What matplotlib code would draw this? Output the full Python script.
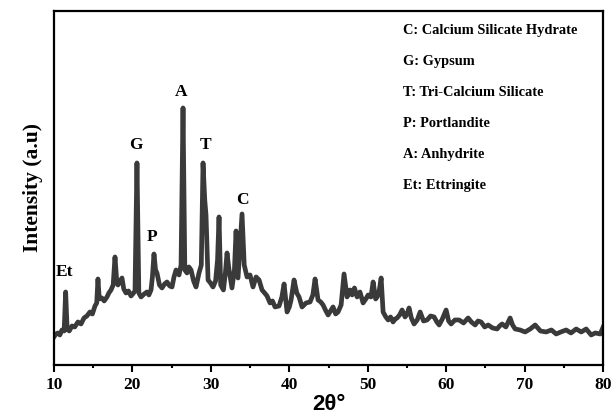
import matplotlib
matplotlib.use("Agg")
from matplotlib import pyplot as plt
from matplotlib.ticker import MultipleLocator

# Patrón DRX (2θ en grados, intensidad en unidades arbitrarias)
two_theta = [
    10.0, 10.25, 10.51, 10.75, 11.02, 11.30, 11.49, 11.68, 11.95, 12.30,
    12.65, 13.06, 13.45, 13.83, 14.20, 14.59, 14.90, 15.23, 15.45, 15.61,
    15.78, 16.10, 16.40, 16.76, 17.00, 17.27, 17.55, 17.78, 18.00, 18.16,
    18.40, 18.67, 18.90, 19.18, 19.50, 19.82, 20.05, 20.33, 20.58, 20.82,
    21.10, 21.50, 21.86, 22.10, 22.37, 22.55, 22.75, 22.95, 23.13, 23.45,
    23.77, 24.10, 24.41, 24.75, 25.05, 25.30, 25.56, 25.94, 26.20, 26.45,
    26.68, 26.96, 27.20, 27.47, 27.80, 28.11, 28.49, 28.78, 29.00, 29.22,
    29.38, 29.64, 29.95, 30.27, 30.60, 30.85, 31.04, 31.25, 31.60, 31.85,
    32.06, 32.30, 32.69, 33.00, 33.21, 33.46, 33.72, 33.97, 34.25, 34.61,
    34.99, 35.37, 35.76, 36.14, 36.52, 36.85, 37.16, 37.54, 37.85, 38.18,
    38.69, 39.05, 39.33, 39.71, 40.00, 40.22, 40.60, 40.95, 41.24, 41.62,
    42.13, 42.64, 43.00, 43.28, 43.66, 44.00, 44.30, 44.60, 44.94, 45.25,
    45.57, 45.90, 46.21, 46.60, 46.97, 47.36, 47.74, 48.00, 48.30, 48.64,
    49.00, 49.40, 49.75, 50.04, 50.40, 50.68, 51.00, 51.19, 51.45, 51.70,
    51.95, 52.30, 52.59, 52.90, 53.22, 53.50, 53.73, 54.05, 54.37, 54.75,
    55.00, 55.26, 55.55, 55.90, 56.30, 56.67, 57.10, 57.56, 58.00, 58.45,
    58.80, 59.09, 59.50, 59.98, 60.30, 60.62, 61.10, 61.64, 62.20, 62.79,
    63.20, 63.68, 64.05, 64.44, 64.90, 65.34, 65.90, 66.48, 66.80, 67.12,
    67.60, 68.14, 68.45, 68.78, 69.40, 70.05, 70.70, 71.33, 72.00, 72.73,
    73.40, 74.01, 74.60, 75.28, 75.90, 76.56, 77.20, 77.83, 78.47, 79.00,
    79.62, 80.0,
]
intensity = [
    28, 31, 32, 30, 35, 34, 73, 36, 34, 39,
    38, 43, 41, 47, 49, 53, 51, 59, 62, 86,
    66, 67, 64, 68, 72, 75, 80, 108, 84, 80,
    83, 87, 76, 72, 74, 69, 71, 74, 202, 72,
    68, 71, 73, 70, 75, 88, 111, 95, 92, 80,
    77, 81, 83, 79, 78, 88, 95, 90, 100, 257,
    95, 92, 98, 95, 84, 78, 92, 100, 202, 165,
    150, 85, 82, 78, 84, 105, 148, 80, 75, 92,
    112, 96, 77, 95, 134, 87, 120, 151, 100, 88,
    90, 78, 88, 85, 75, 72, 69, 62, 64, 58,
    59, 68, 81, 53, 58, 65, 85, 72, 68, 58,
    62, 63, 70, 86, 65, 63, 60, 55, 50, 54,
    58, 51, 53, 60, 91, 68, 75, 70, 77, 68,
    73, 62, 66, 70, 68, 83, 66, 68, 74, 87,
    53, 48, 45, 48, 43, 46, 47, 50, 55, 48,
    51, 57, 47, 41, 45, 53, 44, 45, 49, 48,
    43, 40, 46, 55, 44, 41, 45, 45, 42, 47,
    43, 40, 44, 43, 38, 40, 37, 36, 39, 41,
    38, 47, 40, 36, 35, 33, 36, 40, 34, 33,
    35, 31, 33, 35, 32, 36, 33, 36, 30, 32,
    31, 38,
]

# Etiquetas de picos
peak_labels = ["Et", "G", "P", "A", "T", "C"]
peak_x = [11.4, 20.5, 22.5, 26.2, 29.3, 34.0]
peak_y = [93, 220, 128, 273, 220, 165]

phases = [
    "C: Calcium Silicate Hydrate",
    "G: Gypsum",
    "T: Tri-Calcium Silicate",
    "P: Portlandite",
    "A: Anhydrite",
    "Et: Ettringite",
]

serif = "Liberation Serif"

fig = plt.figure(figsize=(6.13, 4.2), dpi=100)
ax = fig.add_axes([0.088, 0.131, 0.896, 0.843])

ax.plot(two_theta, intensity, color="#3a3a3a", linewidth=3.4, solid_joinstyle="round")

for lab, x, y in zip(peak_labels, peak_x, peak_y):
    ax.text(x, y, lab, ha="center", va="center", fontsize=12.5,
            fontweight="bold", family=serif)

for i, txt in enumerate(phases):
    ax.text(0.636, 0.944 - i * 0.0875, txt, transform=ax.transAxes,
            ha="left", va="center", fontsize=10.4, fontweight="bold", family=serif)

ax.set_xlim(10, 80)
ax.set_ylim(0, 354)
ax.set_yticks([])
ax.xaxis.set_major_locator(MultipleLocator(10))
ax.xaxis.set_minor_locator(MultipleLocator(5))
ax.tick_params(axis="x", which="major", direction="out", length=5, width=1.5)
ax.tick_params(axis="x", which="minor", direction="out", length=2.5, width=1.5)
for lbl in ax.get_xticklabels():
    lbl.set_fontfamily(serif)
    lbl.set_fontweight("bold")
    lbl.set_fontsize(12.5)
for s in ax.spines.values():
    s.set_linewidth(1.6)

ax.set_xlabel("2θ°", fontsize=16, fontweight="bold", family="Liberation Sans", labelpad=1)
ax.set_ylabel("Intensity (a.u)", fontsize=15.5, fontweight="bold", family=serif, labelpad=8)

plt.savefig("out.png", dpi=100)
